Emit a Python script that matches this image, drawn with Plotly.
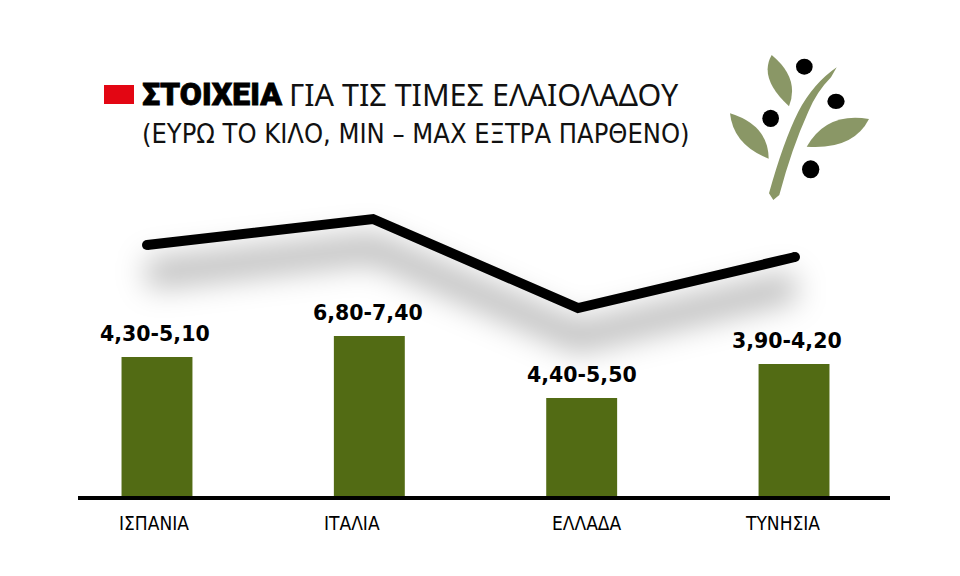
import plotly.graph_objects as go

# Values (bar and line heights in picture units above the baseline)
categories = ['ΙΣΠΑΝΙΑ', 'ΙΤΑΛΙΑ', 'ΕΛΛΑΔΑ', 'ΤΥΝΗΣΙΑ']
price_labels = ['4,30-5,10', '6,80-7,40', '4,40-5,50', '3,90-4,20']
bar_values = [139, 160, 98, 132]
line_x = [147, 373, 578, 795]
line_values = [251, 277, 188, 239]

# Small offsets of the texts against the bars, as in the original
label_shift = [-2, -1, 0, -7]
cat_shift = [-3, -17, 5, -12]

OLIVE = '#526b14'
LEAF = '#8a9766'
NARROW = 'DejaVu Sans Condensed'


# logo is measured on a 3x crop starting at (720, 45)
def pt(zx, zy):
    return f'{720 + zx / 3:.1f} {496 - (45 + zy / 3):.1f}'


fig = go.Figure()

fig.add_trace(go.Bar(x=categories, y=bar_values, width=0.334,
                     marker=dict(color=OLIVE, line=dict(width=0))))

# Shadow under the line, blurred in post_script below
fig.add_trace(go.Scatter(x=line_x, y=[v - 29 for v in line_values], xaxis='x2', mode='lines',
                         line=dict(color='rgba(0,0,0,0.27)', width=28)))

fig.add_trace(go.Scatter(x=line_x, y=line_values, xaxis='x2', mode='lines+markers',
                         line=dict(color='#000000', width=10),
                         marker=dict(color='#000000', opacity=1, size=[10, 0, 0, 10], line=dict(width=0))))

annotations = []
for i, cat in enumerate(categories):
    annotations.append(dict(x=cat, y=bar_values[i], text=price_labels[i], showarrow=False,
                            xshift=label_shift[i], yshift=9, yanchor='bottom',
                            font=dict(family='DejaVu Sans', size=20.5, color='#000000', weight='bold')))
    annotations.append(dict(x=cat, y=0, text=cat, showarrow=False, xshift=cat_shift[i], yshift=-27,
                            yanchor='middle', font=dict(family=NARROW, size=19, color='#000000')))

titles = [
    (140, 94, 'ΣΤΟΙΧΕΙΑ', dict(family='Roboto', size=32, color='#000000', weight=900)),
    (287, 94, 'ΓΙΑ ΤΙΣ ΤΙΜΕΣ ΕΛΑΙΟΛΑΔΟΥ', dict(family='Noto Sans', size=30.5, color='#111111')),
    (140, 133, '(ΕΥΡΩ ΤΟ ΚΙΛΟ, MIN – MAX ΕΞΤΡΑ ΠΑΡΘΕΝΟ)', dict(family=NARROW, size=27, color='#111111')),
]
for tx, ty, text, font in titles:
    annotations.append(dict(xref='x2', yref='y', x=tx, y=496 - ty, text=text, showarrow=False,
                            xanchor='left', yanchor='middle', font=font))

logo_paths = [
    # stem
    f'M {pt(160, 465)} L {pt(147, 445)} Q {pt(190, 290)} {pt(235, 200)} Q {pt(280, 115)} {pt(350, 67)} '
    f'L {pt(333, 97)} Q {pt(290, 140)} {pt(265, 200)} Q {pt(215, 310)} {pt(178, 450)} Z',
    # leaves
    f'M {pt(155, 30)} Q {pt(115, 100)} {pt(207, 184)} Q {pt(240, 100)} {pt(155, 30)} Z',
    f'M {pt(30, 205)} Q {pt(40, 300)} {pt(146, 341)} Q {pt(145, 240)} {pt(30, 205)} Z',
    f'M {pt(447, 222)} Q {pt(320, 200)} {pt(260, 305)} Q {pt(400, 315)} {pt(447, 222)} Z',
]
shapes = [dict(type='path', xref='x2', yref='y', path=p, fillcolor=LEAF, line=dict(width=0))
          for p in logo_paths]

olives = [(253, 65, 25, 24), (348, 169, 26, 23), (152, 220, 25, 26), (272, 373, 26, 27)]
for zx, zy, rx, ry in olives:
    shapes.append(dict(type='circle', xref='x2', yref='y',
                       x0=720 + (zx - rx) / 3, x1=720 + (zx + rx) / 3,
                       y0=496 - (45 + (zy + ry) / 3), y1=496 - (45 + (zy - ry) / 3),
                       fillcolor='#000000', line=dict(width=0)))

# red square in front of the title
shapes.append(dict(type='rect', xref='x2', yref='y', x0=104, x1=134, y0=496 - 104, y1=496 - 85,
                   fillcolor='#e30613', line=dict(width=0)))

fig.update_layout(width=960, height=576,
                  margin=dict(l=78, r=70, t=0, b=80),
                  paper_bgcolor='#ffffff',
                  plot_bgcolor='#ffffff',
                  showlegend=False,
                  xaxis=dict(type='category', categoryorder='array', categoryarray=categories,
                             range=[-0.372, 3.452], showticklabels=False, ticks='', showgrid=False,
                             zeroline=False, showline=True, linecolor='#000000', linewidth=4),
                  xaxis2=dict(overlaying='x', range=[78, 890], visible=False),
                  yaxis=dict(range=[0, 496], visible=False),
                  annotations=annotations,
                  shapes=shapes)

# no page margin, soften the shadow trace, narrow and heavy title text
post = """
document.body.style.margin = '0';
var tr = document.querySelectorAll('.scatterlayer .trace');
tr[0].style.filter = 'blur(15px)';
document.querySelectorAll('.annotation-text').forEach(function (t) {
  var s = t.textContent;
  if (s.indexOf('ΓΙΑ') === 0) { t.style.fontStretch = 'extra-condensed'; }
  if (s === 'ΣΤΟΙΧΕΙΑ') { t.style.stroke = '#000'; t.style.strokeWidth = '0.8px'; }
});
"""
fig.write_html("out.html", post_script=post, config=dict(displayModeBar=False))
